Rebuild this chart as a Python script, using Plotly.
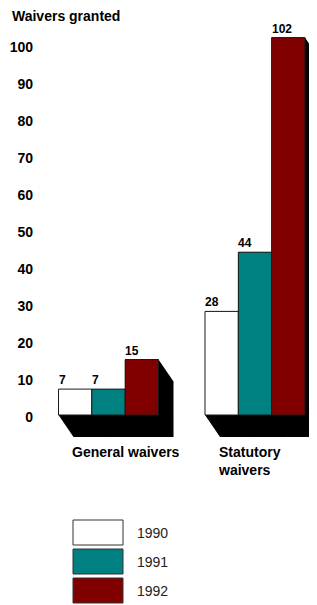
import plotly.graph_objects as go

# ---- data ----
categories = ["General waivers", "Statutory<br>waivers"]
years = ["1990", "1991", "1992"]
v1990 = [7, 28]
v1991 = [7, 44]
v1992 = [15, 102]
series = [v1990, v1991, v1992]
tick_values = [0, 10, 20, 30, 40, 50, 60, 70, 80, 90, 100]
y_title = "Waivers granted"

# ---- style / geometry (reference pixels; page body adds an 8px margin) ----
colors = ["#ffffff", "#008080", "#800000"]
FONT = "Arial, Liberation Sans, sans-serif"
OFF = 8
W, H = 317 - OFF, 605 - OFF
PL = 40                 # plot-area left edge (reference px)
BW = 0.2275             # bar width (x units)
DX, DY = 0.1024, 5.95   # depth offset of black extrusion (x units, y units)
group_pos = [0, 1]
x0px, scale_x = 108.5, 146.5
zero_px, scale_y = 415, 3.7


def px_x(px):
    return (px - PL) / (317 - PL)


def px_y(py):
    return (605 - py) / (605 - OFF)


fig = go.Figure()

# black extrusions behind the bars
for gi, gx in enumerate(group_pos):
    for si, vals in enumerate(series):
        v = vals[gi]
        xl = gx + (si - 1.5) * BW
        xr = xl + BW
        pts = [(xl, 0), (xl + DX, -DY), (xr + DX, -DY), (xr + DX, v - DY), (xr, v), (xl, v)]
        path = "M " + " L ".join("%f,%f" % p for p in pts) + " Z"
        fig.add_shape(type="path", path=path, xref="x", yref="y", layer="below",
                      fillcolor="#000000", line=dict(color="#000000", width=0))

# bars
for si, vals in enumerate(series):
    xs = [gx + (si - 1) * BW for gx in group_pos]
    fig.add_trace(go.Bar(
        x=xs, y=vals, width=BW, name=years[si],
        marker=dict(color=colors[si], line=dict(color="#1a1a1a", width=1)),
        showlegend=False, hoverinfo="skip"))
    for gi, gx in enumerate(group_pos):
        fig.add_annotation(x=gx + (si - 1.5) * BW, y=vals[gi], xref="x", yref="y",
                           text=str(vals[gi]), showarrow=False, xanchor="left", yanchor="bottom",
                           yshift=0, xshift=-2,
                           font=dict(family=FONT, size=12, color="#000", weight="bold"))

# category labels
for gi, gx in enumerate(group_pos):
    fig.add_annotation(x=gx - 1.5 * BW, y=-DY, xref="x", yref="y", text=categories[gi],
                       showarrow=False, xanchor="left", yanchor="top", align="left",
                       xshift=11, yshift=-5,
                       font=dict(family=FONT, size=14, color="#000", weight="bold"))

# y title
fig.add_annotation(x=px_x(10), y=px_y(16), xref="paper", yref="paper", text=y_title,
                   showarrow=False, xanchor="left", yanchor="middle",
                   font=dict(family=FONT, size=14, color="#000", weight="bold"))

# legend boxes
box_tops = [520, 549, 578]
for si, yr in enumerate(years):
    t = box_tops[si]
    fig.add_shape(type="rect", xref="paper", yref="paper",
                  x0=px_x(73), x1=px_x(123), y0=px_y(t + 25), y1=px_y(t),
                  fillcolor=colors[si], line=dict(color="#333333", width=1))
    fig.add_annotation(x=px_x(135), y=px_y(t + 13), xref="paper", yref="paper", text=yr,
                       showarrow=False, xanchor="left", yanchor="middle",
                       font=dict(family=FONT, size=14, color="#222"))

fig.update_layout(
    width=W, height=H, margin=dict(l=PL - OFF, r=0, t=0, b=0, autoexpand=False),
    paper_bgcolor="white", plot_bgcolor="white",
    barmode="overlay", showlegend=False,
    xaxis=dict(range=[(PL - x0px) / scale_x, (317 - x0px) / scale_x], visible=False, fixedrange=True),
    yaxis=dict(range=[-(605 - zero_px) / scale_y, (zero_px - OFF) / scale_y], tickvals=tick_values,
               showgrid=False, zeroline=False, showline=False, ticks="", automargin=False,
               tickfont=dict(family=FONT, size=14, color="#000", weight="bold"),
               ticklabelshift=2, ticklabelstandoff=6, fixedrange=True),
)

fig.write_html("out.html")
